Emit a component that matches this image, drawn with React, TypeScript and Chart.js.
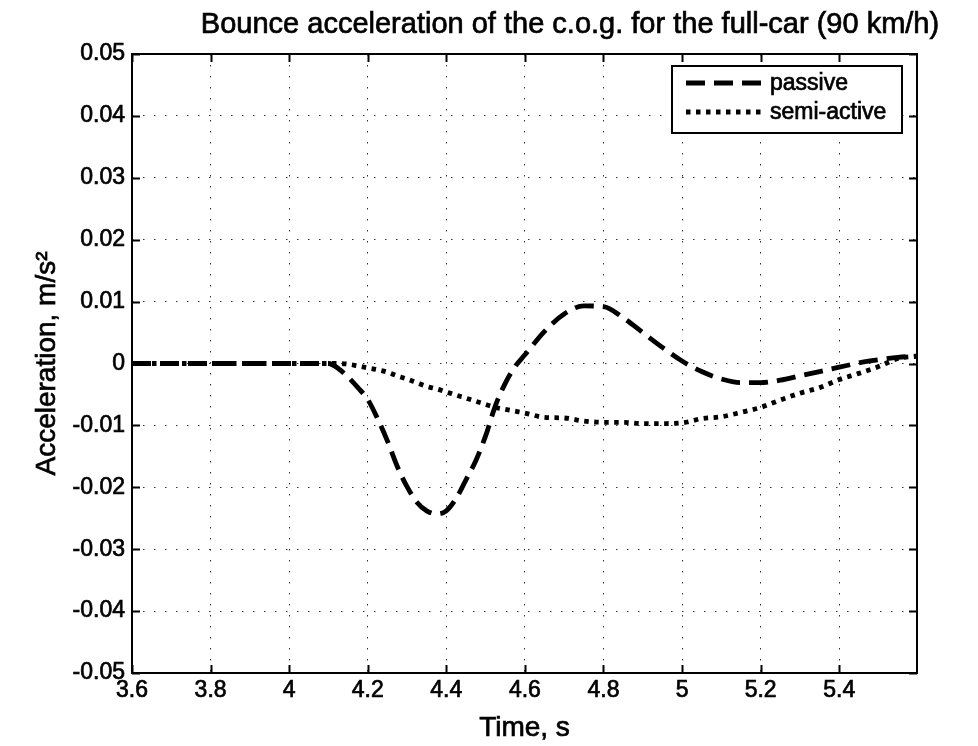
import React, { useEffect, useRef } from "react";
import { Chart, registerables } from "chart.js";

Chart.register(...registerables);

const TITLE = "Bounce acceleration of the c.o.g. for the full-car (90 km/h)";
const X_TITLE = "Time, s";
const Y_TITLE = "Acceleration, m/s²";
const SERIES_NAMES = ["passive", "semi-active"];

const time = [
  3.6, 3.8, 4.0, 4.1, 4.125, 4.15, 4.175, 4.2, 4.225, 4.25, 4.275, 4.3, 4.325, 4.35, 4.375, 4.4,
  4.425, 4.45, 4.475, 4.5, 4.525, 4.55, 4.575, 4.6, 4.65, 4.7, 4.75, 4.8, 4.85, 4.9, 4.95, 5.0,
  5.05, 5.1, 5.15, 5.2, 5.25, 5.3, 5.35, 5.4, 5.45, 5.5, 5.55, 5.6,
];

const passive = [
  0, 0, 0, 0, -0.0008, -0.0022, -0.0039, -0.0058, -0.0089, -0.0125, -0.0166, -0.0199, -0.0224,
  -0.0238, -0.0243, -0.0238, -0.0218, -0.0188, -0.0157, -0.0117, -0.0068, -0.0032, -0.0005, 0.0014,
  0.0052, 0.008, 0.0093, 0.0092, 0.0074, 0.005, 0.0026, 0.0004, -0.0013, -0.0025, -0.0031, -0.0031,
  -0.0027, -0.002, -0.0013, -0.0006, 0.0001, 0.0006, 0.001, 0.0012,
];

const semiActive = [
  0, 0, 0, 0, 0, -0.0001, -0.0004, -0.0007, -0.001, -0.0014, -0.002, -0.0025, -0.0031, -0.0037,
  -0.0041, -0.0046, -0.0051, -0.0056, -0.0061, -0.0066, -0.0071, -0.0074, -0.0077, -0.008, -0.0087,
  -0.0088, -0.0093, -0.0095, -0.0095, -0.0097, -0.0097, -0.0096, -0.0089, -0.0086, -0.0079, -0.0071,
  -0.0059, -0.0048, -0.0039, -0.0026, -0.0016, -0.0005, 0.0008, 0.0012,
];

const xTicks = [3.6, 3.8, 4.0, 4.2, 4.4, 4.6, 4.8, 5.0, 5.2, 5.4];
const yTicks = [-0.05, -0.04, -0.03, -0.02, -0.01, 0, 0.01, 0.02, 0.03, 0.04, 0.05];
const X_MIN = 3.6;
const X_MAX = 5.598;
const Y_MIN = -0.05;
const Y_MAX = 0.05;

const FONT = "'Liberation Sans', Arial, Helvetica, sans-serif";
const PASSIVE_DASH = [19, 9];
const SEMI_DASH = [4.5, 5.5];
const LINE_W = 4.8;
const TEXT_STROKE = 0.7;

function boldText(ctx: CanvasRenderingContext2D, s: string, x: number, y: number) {
  ctx.lineWidth = TEXT_STROKE;
  ctx.strokeStyle = "#000";
  ctx.setLineDash([]);
  ctx.strokeText(s, x, y);
  ctx.fillText(s, x, y);
}

const decorPlugin = {
  id: "decor",
  afterDraw(chart: any) {
    const { ctx, chartArea: a, scales } = chart;
    const xs = scales.x;
    const ys = scales.y;
    ctx.save();
    ctx.setLineDash([]);
    ctx.strokeStyle = "#000";
    ctx.lineWidth = 2;
    const tl = 8;
    ctx.beginPath();
    for (const v of xTicks) {
      const px = Math.round(xs.getPixelForValue(v)) + 0.5;
      ctx.moveTo(px, a.bottom);
      ctx.lineTo(px, a.bottom - tl);
      ctx.moveTo(px, a.top);
      ctx.lineTo(px, a.top + tl);
    }
    for (const v of yTicks) {
      const py = Math.round(ys.getPixelForValue(v)) + 0.5;
      ctx.moveTo(a.left, py);
      ctx.lineTo(a.left + tl, py);
      ctx.moveTo(a.right, py);
      ctx.lineTo(a.right - tl, py);
    }
    ctx.stroke();
    ctx.strokeRect(a.left, a.top, a.right - a.left, a.bottom - a.top);

    ctx.fillStyle = "#000";
    ctx.font = `29px ${FONT}`;
    ctx.textAlign = "center";
    ctx.textBaseline = "alphabetic";
    boldText(ctx, TITLE, 570, 33);

    ctx.font = `28px ${FONT}`;
    boldText(ctx, X_TITLE, (a.left + a.right) / 2, 736);

    ctx.save();
    ctx.translate(55, (a.top + a.bottom) / 2);
    ctx.rotate(-Math.PI / 2);
    ctx.textAlign = "center";
    ctx.textBaseline = "alphabetic";
    boldText(ctx, Y_TITLE, 0, 0);
    ctx.restore();

    const lx = 672, ly = 66, lw = 230, lh = 67;
    ctx.fillStyle = "#fff";
    ctx.fillRect(lx, ly, lw, lh);
    ctx.lineWidth = 2;
    ctx.strokeStyle = "#000";
    ctx.strokeRect(lx, ly, lw, lh);
    const rows = [
      { y: 83, dash: PASSIVE_DASH, name: SERIES_NAMES[0] },
      { y: 112, dash: SEMI_DASH, name: SERIES_NAMES[1] },
    ];
    for (const r of rows) {
      ctx.setLineDash(r.dash);
      ctx.lineWidth = LINE_W;
      ctx.lineCap = "butt";
      ctx.strokeStyle = "#000";
      ctx.beginPath();
      ctx.moveTo(686, r.y);
      ctx.lineTo(764, r.y);
      ctx.stroke();
      ctx.setLineDash([]);
      ctx.fillStyle = "#000";
      ctx.font = `23px ${FONT}`;
      ctx.textAlign = "left";
      ctx.textBaseline = "middle";
      boldText(ctx, r.name, 770, r.y + 1);
    }
    ctx.restore();
  },
};

export default function App() {
  const ref = useRef<HTMLCanvasElement>(null);
  useEffect(() => {
    if (!ref.current) return;
    const chart = new Chart(ref.current, {
      type: "line",
      data: {
        datasets: [
          {
            label: SERIES_NAMES[0],
            data: time.map((t, i) => ({ x: t, y: passive[i] })),
            borderColor: "#000",
            borderWidth: LINE_W,
            borderDash: PASSIVE_DASH,
            pointRadius: 0,
            cubicInterpolationMode: "monotone",
            fill: false,
          },
          {
            label: SERIES_NAMES[1],
            data: time.map((t, i) => ({ x: t, y: semiActive[i] })),
            borderColor: "#000",
            borderWidth: LINE_W,
            borderDash: SEMI_DASH,
            pointRadius: 0,
            cubicInterpolationMode: "monotone",
            fill: false,
          },
        ],
      },
      options: {
        animation: false,
        responsive: false,
        layout: { padding: { top: 54, right: 61, left: 0, bottom: 0 } },
        plugins: {
          legend: { display: false },
          title: { display: false },
          tooltip: { enabled: false },
        },
        scales: {
          x: {
            type: "linear",
            min: X_MIN,
            max: X_MAX,
            afterBuildTicks: (s: any) => {
              s.ticks = xTicks.map((v) => ({ value: v }));
            },
            afterFit: (s: any) => {
              s.height = 73;
            },
            ticks: {
              color: "#000",
              font: { family: FONT, size: 23 },
              padding: 4,
              maxRotation: 0,
              autoSkip: false,
              textStrokeColor: "#000",
              textStrokeWidth: TEXT_STROKE,
              callback: (v: any) => String(Number(Number(v).toFixed(1))),
            },
            grid: { color: "#333", lineWidth: 1, drawTicks: false },
            border: { display: false, dash: [1.5, 9.5] },
          },
          y: {
            type: "linear",
            min: Y_MIN,
            max: Y_MAX,
            afterBuildTicks: (s: any) => {
              s.ticks = yTicks.map((v) => ({ value: v }));
            },
            afterFit: (s: any) => {
              s.width = 132;
            },
            ticks: {
              color: "#000",
              font: { family: FONT, size: 23 },
              padding: 7,
              autoSkip: false,
              textStrokeColor: "#000",
              textStrokeWidth: TEXT_STROKE,
              callback: (v: any) => (Math.abs(Number(v)) < 1e-9 ? "0" : Number(v).toFixed(2)),
            },
            grid: { color: "#333", lineWidth: 1, drawTicks: false },
            border: { display: false, dash: [1.5, 9.5] },
          },
        },
      },
      plugins: [decorPlugin],
    } as any);
    return () => chart.destroy();
  }, []);
  return (
    <div style={{ position: "absolute", left: 0, top: 0, width: 978, height: 746, background: "#fff" }}>
      <canvas ref={ref} width={978} height={746} style={{ display: "block" }} />
    </div>
  );
}
